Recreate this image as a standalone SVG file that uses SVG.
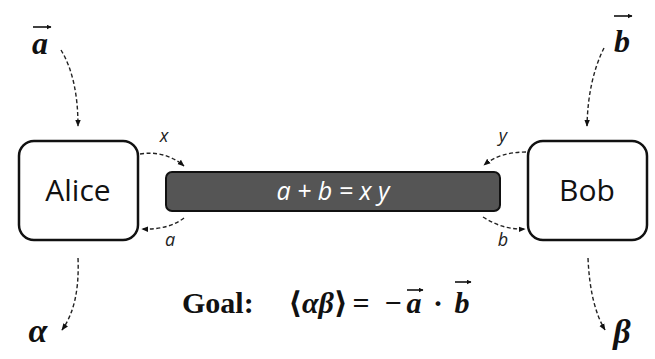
<svg xmlns="http://www.w3.org/2000/svg" width="655" height="359" viewBox="0 0 655 359">
<style>
.box{fill:#fff;stroke:#111;stroke-width:2.5}
.conn{fill:none;stroke:#222;stroke-width:1.4;stroke-dasharray:4 2.5}
.vec{fill:none;stroke:#111;stroke-width:1.6}
.lbl{font-family:"Open Sans","Liberation Sans",sans-serif;fill:#111}
.var{font-family:"Open Sans","Liberation Sans",sans-serif;font-style:italic;fill:#222;font-size:18px}
.math{font-family:"Liberation Serif","DejaVu Serif",serif;font-weight:bold;fill:#111}
</style>
<defs>
<marker id="ah" viewBox="0 0 10 10" refX="9" refY="5" markerWidth="7" markerHeight="7" orient="auto" markerUnits="userSpaceOnUse">
<path d="M0,1 L10,5 L0,9 Z" fill="#111"/>
</marker>
<marker id="vh" viewBox="0 0 10 10" refX="9" refY="5" markerWidth="5" markerHeight="5" orient="auto" markerUnits="userSpaceOnUse">
<path d="M0,0 L10,5 L0,10 Z" fill="#111"/>
</marker>
</defs>
<rect width="655" height="359" fill="#fff"/>
<g id="connectors">
<path class="conn" d="M61,50 Q78,78 78,126" marker-end="url(#ah)"/>
<path class="conn" d="M140,154 Q165,150 184,166" marker-end="url(#ah)"/>
<path class="conn" d="M184,218 Q168,230 142,229" marker-end="url(#ah)"/>
<path class="conn" d="M78,258 Q80,305 62,330" marker-end="url(#ah)"/>
<path class="conn" d="M604,48 Q588,80 587,126" marker-end="url(#ah)"/>
<path class="conn" d="M526,152 Q500,152 484,165" marker-end="url(#ah)"/>
<path class="conn" d="M483,217 Q503,230 525,229" marker-end="url(#ah)"/>
<path class="conn" d="M588,258 Q590,305 605,330" marker-end="url(#ah)"/>
</g>
<g id="alice">
<rect class="box" x="19" y="141" width="119" height="99" rx="15"/>
<text class="lbl" x="78" y="201" font-size="30" text-anchor="middle">Alice</text>
</g>
<g id="bob">
<rect class="box" x="528" y="141" width="119" height="99" rx="15"/>
<text class="lbl" x="587" y="201" font-size="30" text-anchor="middle">Bob</text>
</g>
<g id="channel">
<rect x="166" y="172" width="334" height="39" rx="6" fill="#555" stroke="#111" stroke-width="2"/>
<text x="333" y="200" font-family="'Open Sans','Liberation Sans',sans-serif" font-style="italic" font-size="25" fill="#fff" text-anchor="middle">a + b = x y</text>
</g>
<g id="labels">
<text class="math" x="40" y="54" font-size="32" font-style="italic" text-anchor="middle">a</text>
<path class="vec" d="M33,27 L51,27" marker-end="url(#vh)"/>
<text class="math" x="622" y="52" font-size="32" font-style="italic" text-anchor="middle">b</text>
<path class="vec" d="M614,16 L632,16" marker-end="url(#vh)"/>
<text class="var" x="164" y="142" text-anchor="middle">x</text>
<text class="var" x="503" y="142" text-anchor="middle">y</text>
<text class="var" x="170" y="246" text-anchor="middle">a</text>
<text class="var" x="503" y="246" text-anchor="middle">b</text>
<text class="math" x="38" y="342" font-size="34" font-style="italic" text-anchor="middle">α</text>
<text class="math" x="622" y="343" font-size="34" font-style="italic" text-anchor="middle">β</text>
<text class="math" x="182" y="313" font-size="30">Goal:</text>
<text class="math" x="318" y="313" font-size="30" text-anchor="middle">⟨<tspan font-style="italic">αβ</tspan>⟩</text>
<text class="math" x="361" y="313" font-size="30" text-anchor="middle">=</text>
<text class="math" x="393" y="313" font-size="30" text-anchor="middle">−</text>
<text class="math" x="414" y="313" font-size="30" font-style="italic" text-anchor="middle">a</text>
<path class="vec" d="M407,290 L423,290" marker-end="url(#vh)"/>
<text class="math" x="438" y="313" font-size="30" text-anchor="middle">·</text>
<text class="math" x="462" y="313" font-size="30" font-style="italic" text-anchor="middle">b</text>
<path class="vec" d="M455,282 L471,282" marker-end="url(#vh)"/>
</g>
</svg>
